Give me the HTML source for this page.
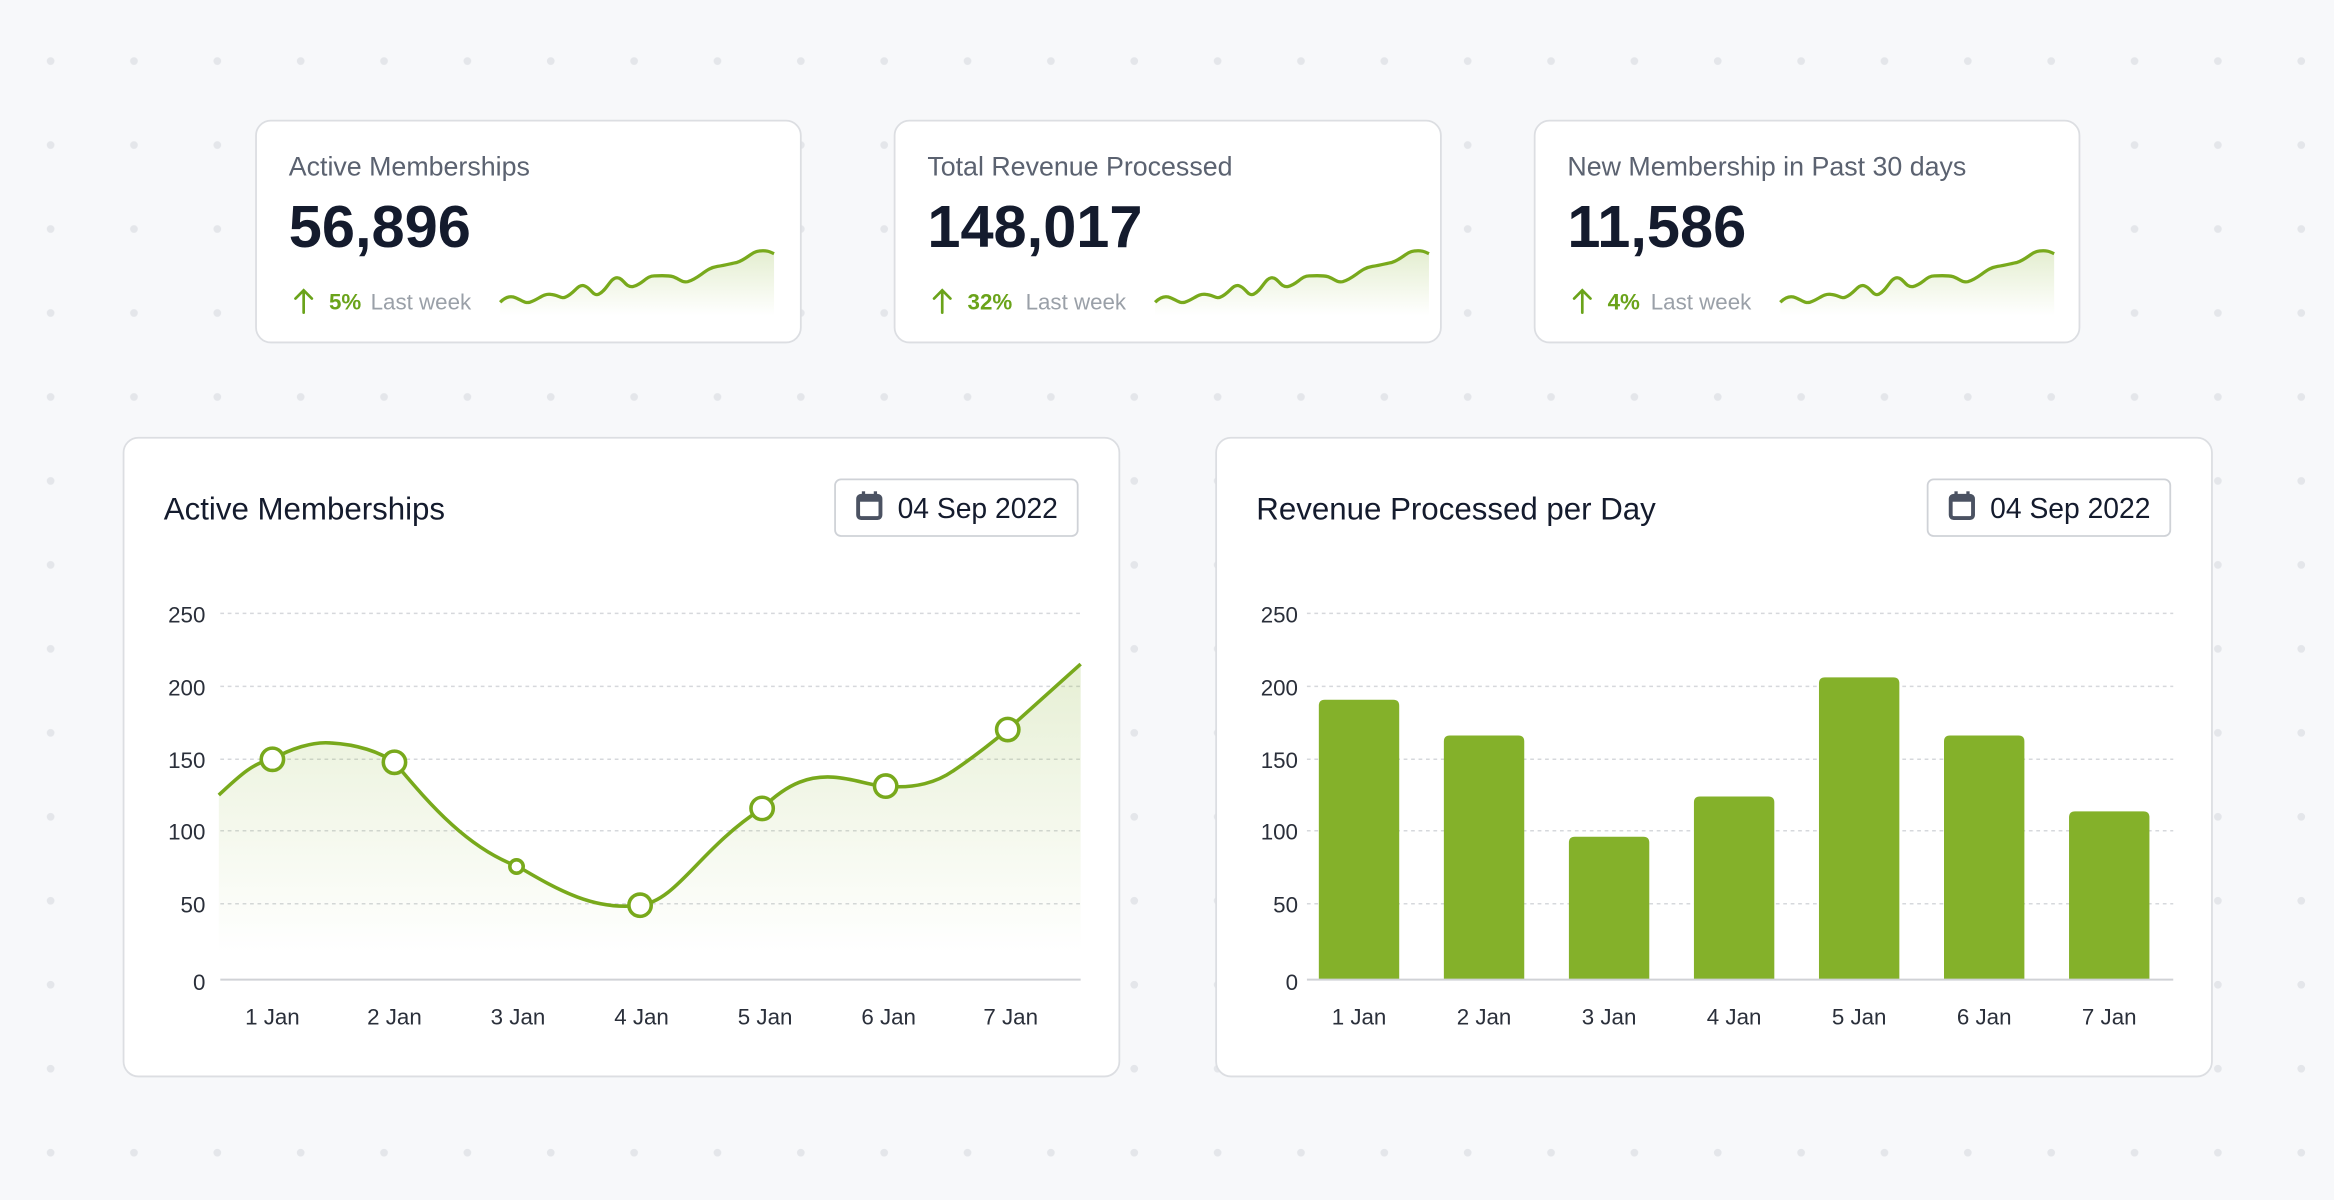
<!DOCTYPE html>
<html><head><meta charset="utf-8"><style>
html,body{margin:0;padding:0;background:#f7f8fa;}
svg{display:block;}
text{font-family:"Liberation Sans",sans-serif;}
</style></head><body>
<svg width="2334" height="1200" viewBox="0 0 1568 806" preserveAspectRatio="none" xmlns="http://www.w3.org/2000/svg">
<defs>
<pattern id="dots" x="6" y="13" width="56" height="56.4" patternUnits="userSpaceOnUse">
<circle cx="28" cy="28" r="2.6" fill="#e4e6ea"/>
</pattern>
<linearGradient id="ag" x1="0" y1="0" x2="0" y2="1">
<stop offset="0" stop-color="#84b12a" stop-opacity="0.2"/>
<stop offset="1" stop-color="#84b12a" stop-opacity="0"/>
</linearGradient>
<linearGradient id="sg" x1="0" y1="0" x2="0" y2="1">
<stop offset="0" stop-color="#84b12a" stop-opacity="0.22"/>
<stop offset="1" stop-color="#84b12a" stop-opacity="0"/>
</linearGradient>
<g id="spark">
<path d="M336,203 C340,199 343,199 345,199.5 C350,201 352,204 356,203 C362,201 365,197 370,197.7 C375,198 377,201 380,199.5 C386,197 388,191 392,191.8 C397,193 398,199 402,197.7 C408,195 410,186 415,186.6 C419,187 420,193 425,192.5 C432,191 434,185 440,185.3 C446,185 449,185 452,185.8 C456,187 458,190 462,189.2 C470,187 474,180 482,178.9 C488,178 491,177 495,176.3 C502,174 505,169 510,168.6 C515,168 517,169 520,170.4 L520,212 L336,212 Z" fill="url(#sg)"/>
<path d="M336,203 C340,199 343,199 345,199.5 C350,201 352,204 356,203 C362,201 365,197 370,197.7 C375,198 377,201 380,199.5 C386,197 388,191 392,191.8 C397,193 398,199 402,197.7 C408,195 410,186 415,186.6 C419,187 420,193 425,192.5 C432,191 434,185 440,185.3 C446,185 449,185 452,185.8 C456,187 458,190 462,189.2 C470,187 474,180 482,178.9 C488,178 491,177 495,176.3 C502,174 505,169 510,168.6 C515,168 517,169 520,170.4" fill="none" stroke="#78a91c" stroke-width="2.2"/>
</g>
<g id="arrow"><path d="M204,210 L204,195 M198.5,200.5 L204,195 L209.5,200.5" fill="none" stroke="#6aa31a" stroke-width="1.8" stroke-linecap="round"/></g>
</defs>
<rect width="1568" height="806" fill="#f7f8fa"/>
<rect width="1568" height="806" fill="url(#dots)"/>

<g>
<rect x="172" y="81" width="366" height="149" rx="10" fill="#fff" stroke="#dcdee2" stroke-width="1.2"/>
<text x="194" y="118" font-size="18" fill="#5b6270">Active Memberships</text>
<text x="194" y="166" font-size="40" font-weight="600" fill="#141b2d">56,896</text>
<use href="#arrow"/>
<text x="221" y="208" font-size="15" font-weight="700" fill="#6aa31a">5%</text>
<text x="249" y="208" font-size="15" fill="#9aa0a8">Last week</text>
<use href="#spark"/>
</g>
<g>
<rect x="601" y="81" width="367" height="149" rx="10" fill="#fff" stroke="#dcdee2" stroke-width="1.2"/>
<text x="623" y="118" font-size="18" fill="#5b6270">Total Revenue Processed</text>
<text x="623" y="166" font-size="40" font-weight="600" fill="#141b2d">148,017</text>
<use href="#arrow" transform="translate(429,0)"/>
<text x="650" y="208" font-size="15" font-weight="700" fill="#6aa31a">32%</text>
<text x="689" y="208" font-size="15" fill="#9aa0a8">Last week</text>
<use href="#spark" transform="translate(440,0)"/>
</g>
<g>
<rect x="1031" y="81" width="366" height="149" rx="10" fill="#fff" stroke="#dcdee2" stroke-width="1.2"/>
<text x="1053" y="118" font-size="18" fill="#5b6270">New Membership in Past 30 days</text>
<text x="1053" y="166" font-size="40" font-weight="600" fill="#141b2d">11,586</text>
<use href="#arrow" transform="translate(859,0)"/>
<text x="1080" y="208" font-size="15" font-weight="700" fill="#6aa31a">4%</text>
<text x="1109" y="208" font-size="15" fill="#9aa0a8">Last week</text>
<use href="#spark" transform="translate(860,0)"/>
</g>

<rect x="83" y="294" width="669" height="429" rx="10" fill="#fff" stroke="#dcdee2" stroke-width="1.2"/>
<text x="110" y="349" font-size="21" font-weight="500" fill="#141b2d">Active Memberships</text>
<rect x="561" y="322" width="163" height="38" rx="4" fill="#fff" stroke="#cfd2d7" stroke-width="1.2"/>
<g><rect x="576.5" y="333" width="15" height="15" rx="2" fill="none" stroke="#4b5262" stroke-width="2.6"/><rect x="576" y="333" width="16" height="4" fill="#4b5262"/><rect x="579" y="330" width="2.2" height="4" fill="#4b5262"/><rect x="587" y="330" width="2.2" height="4" fill="#4b5262"/></g>
<text x="603" y="348" font-size="19" fill="#141b2d">04 Sep 2022</text>
<g stroke="#d6d8dc" stroke-width="1" stroke-dasharray="2.5,2.5">
<line x1="148" y1="412" x2="726" y2="412"/><line x1="148" y1="461" x2="726" y2="461"/>
<line x1="148" y1="510" x2="726" y2="510"/><line x1="148" y1="558" x2="726" y2="558"/>
<line x1="148" y1="607" x2="726" y2="607"/>
</g>
<line x1="148" y1="658" x2="726" y2="658" stroke="#d0d2d6" stroke-width="1.3"/>
<g font-size="15" fill="#2a2f3a" text-anchor="end">
<text x="138" y="418">250</text><text x="138" y="467">200</text><text x="138" y="516">150</text>
<text x="138" y="564">100</text><text x="138" y="613">50</text><text x="138" y="665">0</text>
</g>
<g font-size="15" fill="#2a2f3a" text-anchor="middle">
<text x="183" y="688">1 Jan</text><text x="265" y="688">2 Jan</text><text x="348" y="688">3 Jan</text>
<text x="431" y="688">4 Jan</text><text x="514" y="688">5 Jan</text><text x="597" y="688">6 Jan</text><text x="679" y="688">7 Jan</text>
</g>
<path d="M147,534 C160,522 170,512 183,510 C195,503 210,498 222,499 C240,500 255,505 265,512 C290,542 315,570 348,582 C375,598 400,612 430,608 C455,605 470,570 512,543 C530,525 545,521 560,522 C575,523 585,528 595,528 C615,530 630,525 640,518 C655,508 665,500 677,490 L726,446 L726,640 L147,640 Z" fill="url(#ag)"/>
<path d="M147,534 C160,522 170,512 183,510 C195,503 210,498 222,499 C240,500 255,505 265,512 C290,542 315,570 348,582 C375,598 400,612 430,608 C455,605 470,570 512,543 C530,525 545,521 560,522 C575,523 585,528 595,528 C615,530 630,525 640,518 C655,508 665,500 677,490 L726,446" fill="none" stroke="#78a91c" stroke-width="2.4"/>
<g fill="#fff" stroke="#78a91c" stroke-width="2.4">
<circle cx="183" cy="510" r="7.5"/><circle cx="265" cy="512" r="7.5"/><circle cx="347" cy="582" r="4.5"/>
<circle cx="430" cy="608" r="7.5"/><circle cx="512" cy="543" r="7.5"/><circle cx="595" cy="528" r="7.5"/><circle cx="677" cy="490" r="7.5"/>
</g>

<rect x="817" y="294" width="669" height="429" rx="10" fill="#fff" stroke="#dcdee2" stroke-width="1.2"/>
<text x="844" y="349" font-size="21" font-weight="500" fill="#141b2d">Revenue Processed per Day</text>
<rect x="1295" y="322" width="163" height="38" rx="4" fill="#fff" stroke="#cfd2d7" stroke-width="1.2"/>
<g transform="translate(734,0)"><rect x="576.5" y="333" width="15" height="15" rx="2" fill="none" stroke="#4b5262" stroke-width="2.6"/><rect x="576" y="333" width="16" height="4" fill="#4b5262"/><rect x="579" y="330" width="2.2" height="4" fill="#4b5262"/><rect x="587" y="330" width="2.2" height="4" fill="#4b5262"/></g>
<text x="1337" y="348" font-size="19" fill="#141b2d">04 Sep 2022</text>
<g stroke="#d6d8dc" stroke-width="1" stroke-dasharray="2.5,2.5">
<line x1="878" y1="412" x2="1460" y2="412"/><line x1="878" y1="461" x2="1460" y2="461"/>
<line x1="878" y1="510" x2="1460" y2="510"/><line x1="878" y1="558" x2="1460" y2="558"/>
<line x1="878" y1="607" x2="1460" y2="607"/>
</g>
<g font-size="15" fill="#2a2f3a" text-anchor="end">
<text x="872" y="418">250</text><text x="872" y="467">200</text><text x="872" y="516">150</text>
<text x="872" y="564">100</text><text x="872" y="613">50</text><text x="872" y="665">0</text>
</g>
<g fill="#84b12a">
<path d="M886,658 V474 Q886,470 890,470 H936 Q940,470 940,474 V658 Z"/>
<path d="M970,658 V498 Q970,494 974,494 H1020 Q1024,494 1024,498 V658 Z"/>
<path d="M1054,658 V566 Q1054,562 1058,562 H1104 Q1108,562 1108,566 V658 Z"/>
<path d="M1138,658 V539 Q1138,535 1142,535 H1188 Q1192,535 1192,539 V658 Z"/>
<path d="M1222,658 V459 Q1222,455 1226,455 H1272 Q1276,455 1276,459 V658 Z"/>
<path d="M1306,658 V498 Q1306,494 1310,494 H1356 Q1360,494 1360,498 V658 Z"/>
<path d="M1390,658 V549 Q1390,545 1394,545 H1440 Q1444,545 1444,549 V658 Z"/>
</g>
<line x1="878" y1="658" x2="1460" y2="658" stroke="#d0d2d6" stroke-width="1.3"/>
<g font-size="15" fill="#2a2f3a" text-anchor="middle">
<text x="913" y="688">1 Jan</text><text x="997" y="688">2 Jan</text><text x="1081" y="688">3 Jan</text>
<text x="1165" y="688">4 Jan</text><text x="1249" y="688">5 Jan</text><text x="1333" y="688">6 Jan</text><text x="1417" y="688">7 Jan</text>
</g>
</svg>
</body></html>
